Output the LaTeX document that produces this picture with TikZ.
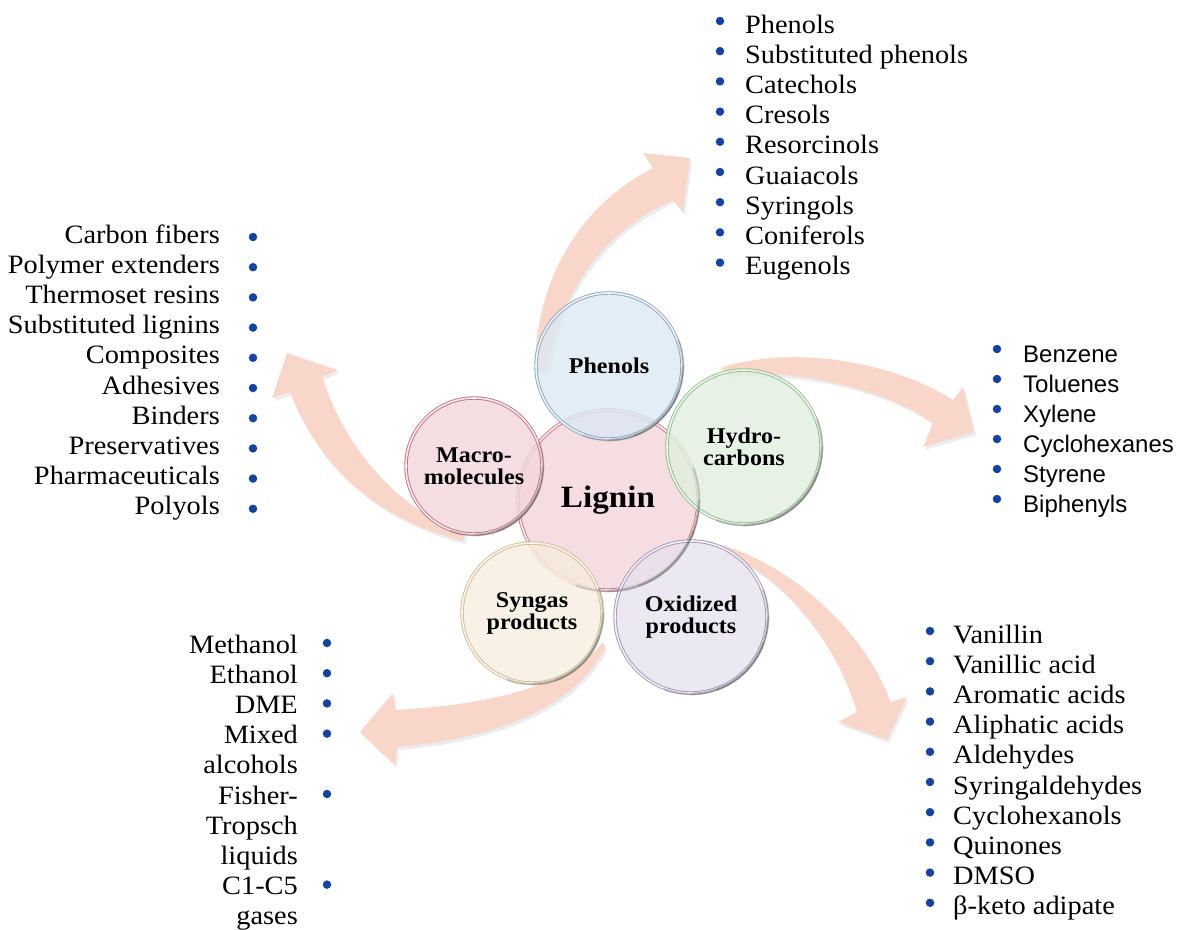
\documentclass[tikz,border=0pt]{standalone}
\usepackage{fontspec}
\setmainfont{Liberation Serif}[FakeStretch=1.07]
\newfontfamily\sansfont{Liberation Sans}
\usetikzlibrary{shadows}

\definecolor{flowfill}{HTML}{F8D7CA}
\definecolor{dotblue}{HTML}{1443A3}
\definecolor{ligfill}{HTML}{F3D4DA}
\definecolor{ligline}{HTML}{C97B88}
\definecolor{phenfill}{HTML}{DCE8F3}
\definecolor{phenline}{HTML}{8EA6BA}
\definecolor{hydrofill}{HTML}{E0F0DD}
\definecolor{hydroline}{HTML}{91BC8D}
\definecolor{macrofill}{HTML}{F2D6DB}
\definecolor{macroline}{HTML}{C4707F}
\definecolor{synfill}{HTML}{F6EDDE}
\definecolor{synline}{HTML}{D1BC94}
\definecolor{oxfill}{HTML}{E7E2EE}
\definecolor{oxline}{HTML}{A397B5}

\tikzset{
  ball/.style={circle, draw=#1line, fill=#1fill, fill opacity=0.8, text opacity=1,
    line width=0.9pt, double=white!55!#1fill, double distance=1.6pt, inner sep=0pt,
    align=center, font=\fontsize{22.5}{22}\selectfont\bfseries},
  flow/.style={fill=flowfill, drop shadow={shadow xshift=2pt, shadow yshift=-3pt, opacity=0.15}},
  item/.style={inner sep=0pt, font=\fontsize{26.5}{30}\selectfont},
  sitem/.style={inner sep=0pt, font=\sansfont\fontsize{24}{30}\selectfont},
  dot/.style={circle, fill=dotblue, inner sep=0pt, minimum size=8.5pt},
  rim/.style={black!70, line width=2.6pt, opacity=0.2, line cap=round},
}

\begin{document}
\begin{tikzpicture}[x=1pt,y=-1pt]
\useasboundingbox (0,0) rectangle (1183,929);

% curved arrows (behind the circles)
\fill[flow] (535,370) .. controls (535,280) and (580,205) .. (653,168)
  -- (643,153) -- (690,158) -- (683,212) -- (673,200)
  .. controls (610,228) and (560,285) .. (547,372) -- cycle;
\fill[flow] (720,368) .. controls (790,345) and (890,360) .. (953,400)
  -- (963,387) -- (974,432) -- (923,447) -- (933,423)
  .. controls (880,385) and (790,370) .. (730,374) -- cycle;
\fill[flow] (722,545) .. controls (790,565) and (865,630) .. (890,702)
  -- (907,697) -- (887,740) -- (838,722) -- (857,712)
  .. controls (835,640) and (785,580) .. (727,553) -- cycle;
\fill[flow] (603,642) .. controls (565,690) and (480,705) .. (395,710)
  -- (393,693) -- (360,732) -- (395,765) -- (397,747)
  .. controls (480,740) and (570,715) .. (605,648) -- cycle;
\fill[flow] (463,541) .. controls (380,520) and (320,470) .. (290,392)
  -- (272,398) -- (287,353) -- (338,370) -- (322,377)
  .. controls (345,450) and (400,510) .. (465,534) -- cycle;

% circles
\node[ball=lig, minimum size=180pt, font=\fontsize{31}{34}\selectfont\bfseries] (lignin) at (608,500) {Lignin};
\node[ball=phen, minimum size=146pt] (phen) at (609,366) {Phenols};
\node[ball=hydro, minimum size=154pt] (hydro) at (744,447) {Hydro-\\carbons};
\node[ball=macro, minimum size=136pt] (macro) at (474,466) {Macro-\\molecules};
\node[ball=syn, minimum size=140pt] (syngas) at (532,613) {Syngas\\products};
\node[ball=ox, minimum size=152pt] (oxid) at (691,617) {Oxidized\\products};

% shaded lower rims, fading towards the ends
\foreach \n/\r in {lignin/91, phen/74, hydro/78, macro/69, syngas/71, oxid/77}
  \foreach \s in {65,45,25}
    \draw[rim] ([shift={(-45+\s:\r pt)}]\n.center) arc[start angle=-45+\s, end angle=-45-\s, radius=\r pt];

% lists
\foreach \t [count=\i from 0] in {Phenols,Substituted phenols,Catechols,Cresols,Resorcinols,Guaiacols,Syringols,Coniferols,Eugenols}{
  \node[item, anchor=base west] (ph\i) at (745,{33+30.2*\i}) {\t};
  \node[dot] (phd\i) at (720,{21+30.2*\i}) {};
}
\foreach \t [count=\i from 0] in {Benzene,Toluenes,Xylene,Cyclohexanes,Styrene,Biphenyls}{
  \node[sitem, anchor=base west] (hc\i) at (1023,{362+30*\i}) {\t};
  \node[dot] (hcd\i) at (997,{349+30*\i}) {};
}
\foreach \t [count=\i from 0] in {Vanillin,Vanillic acid,Aromatic acids,Aliphatic acids,Aldehydes,Syringaldehydes,Cyclohexanols,Quinones,DMSO,β-keto adipate}{
  \node[item, anchor=base west] (ox\i) at (953,{643+30.2*\i}) {\t};
  \node[dot] (oxd\i) at (930,{631+30.2*\i}) {};
}
\foreach \t [count=\i from 0] in {Carbon fibers,Polymer extenders,Thermoset resins,Substituted lignins,Composites,Adhesives,Binders,Preservatives,Pharmaceuticals,Polyols}{
  \node[item, anchor=base east] (mm\i) at (220,{243+30.2*\i}) {\t};
  \node[dot] (mmd\i) at (253,{237+30.2*\i}) {};
}
\foreach \t [count=\i from 0] in {Methanol,Ethanol,DME,Mixed~,alcohols,Fisher-,Tropsch,liquids,C1-C5,gases}
  \node[item, anchor=base east] (sg\i) at (298,{653+30.2*\i}) {\t};
\foreach \i in {0,1,2,3,5,8}
  \node[dot] (sgd\i) at (327,{643+30.2*\i}) {};
\end{tikzpicture}
\end{document}
